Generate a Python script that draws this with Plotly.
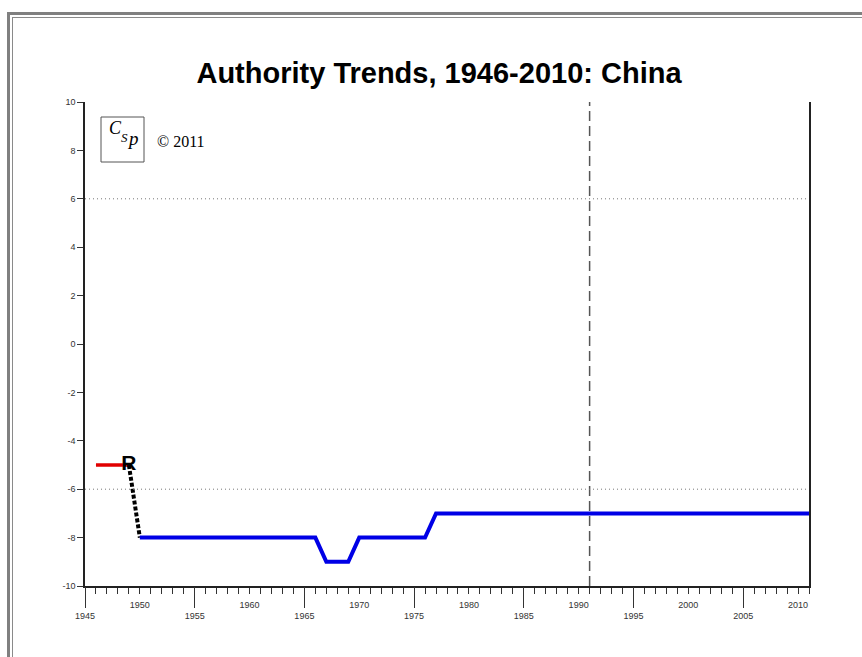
import plotly.graph_objects as go

# ---- data ----
title_text = "Authority Trends, 1946-2010: China"
pre_years = [1946, 1949]
pre_values = [-5, -5]
trans_years = [1949, 1950]
trans_values = [-5, -8]
main_years = [1950, 1966, 1967, 1969, 1970, 1976, 1977, 2011]
main_values = [-8, -8, -9, -9, -8, -8, -7, -7]
event_label = "R"
event_year = 1949
event_value = -5
ref_year = 1991
ref_levels = [6, -6]
x_range = [1945, 2011]
y_range = [-10, 10]
upper_ticks = [1950, 1960, 1970, 1980, 1990, 2000, 2010]
lower_ticks = [1945, 1955, 1965, 1975, 1985, 1995, 2005]
y_ticks = [-10, -8, -6, -4, -2, 0, 2, 4, 6, 8, 10]
copyright_text = "© 2011"

# body margin is removed in the page (see post_script)
OFF = 0
PAGE_W, PAGE_H = 862, 657
W, H = PAGE_W - OFF, PAGE_H - OFF
# plot area in page pixels: left 85, right 809, top 102, bottom 586
L, T = 85 - OFF, 102 - OFF
R, B = PAGE_W - 809, PAGE_H - 586
pw, ph = W - L - R, H - T - B


def px(x):  # page pixel -> paper
    return (x - OFF - L) / pw


def py(y):  # page pixel -> paper
    return (H - B - (y - OFF)) / ph


fig = go.Figure()
fig.add_trace(go.Scatter(x=pre_years, y=pre_values, mode="lines",
                         line=dict(color="rgb(225,0,0)", width=3.5),
                         hoverinfo="skip", showlegend=False))
fig.add_trace(go.Scatter(x=trans_years, y=trans_values, mode="lines",
                         line=dict(color="black", width=4, dash="4px,2px"),
                         hoverinfo="skip", showlegend=False))
fig.add_trace(go.Scatter(x=main_years, y=main_values, mode="lines",
                         line=dict(color="rgb(0,0,230)", width=4),
                         hoverinfo="skip", showlegend=False))
fig.add_trace(go.Scatter(x=[event_year], y=[event_value], mode="text",
                         text=[event_label],
                         textfont=dict(family="Liberation Sans, Arial", size=21, color="black"),
                         texttemplate="<b>%{text}</b>", textposition="middle center",
                         hoverinfo="skip", showlegend=False))
fig.add_trace(go.Scatter(x=[x_range[0]], y=[y_range[0]], xaxis="x2", mode="markers",
                         marker=dict(opacity=0), hoverinfo="skip", showlegend=False))

shapes = []
# reference lines
shapes.append(dict(type="line", xref="x", yref="paper", x0=ref_year, x1=ref_year, y0=0, y1=1,
                   line=dict(color="#555555", width=1.5, dash="10px,5px")))
for lv in ref_levels:
    shapes.append(dict(type="line", xref="paper", yref="y", x0=0, x1=1, y0=lv, y1=lv,
                       line=dict(color="#777777", width=1, dash="1px,3px")))
# outer frame (top and left edges only; the rest lies outside the page)
for (fx, fy, fw, fc) in [(8.5, 13.5, 3, "#808080"), (12.5, 17.5, 1, "#8a8a8a")]:
    shapes.append(dict(type="line", xref="paper", yref="paper",
                       x0=px(fx - fw / 2), x1=px(PAGE_W + 5), y0=py(fy), y1=py(fy),
                       line=dict(color=fc, width=fw)))
    shapes.append(dict(type="line", xref="paper", yref="paper",
                       x0=px(fx), x1=px(fx), y0=py(fy - fw / 2), y1=py(PAGE_H + 5),
                       line=dict(color=fc, width=fw)))
# logo box
shapes.append(dict(type="rect", xref="paper", yref="paper",
                   x0=px(101), x1=px(144), y0=py(117), y1=py(162),
                   line=dict(color="#555555", width=1)))

serif = "Liberation Serif, Times New Roman"
annotations = [
    dict(text="<i>C</i>", xref="paper", yref="paper", x=px(115), y=py(128), showarrow=False,
         font=dict(family=serif, size=18, color="black"),
         xanchor="center", yanchor="middle"),
    dict(text="<i>S</i>", xref="paper", yref="paper", x=px(124), y=py(137), showarrow=False,
         font=dict(family=serif, size=13, color="black"),
         xanchor="center", yanchor="middle"),
    dict(text="<i>p</i>", xref="paper", yref="paper", x=px(133), y=py(138), showarrow=False,
         font=dict(family=serif, size=19, color="black"),
         xanchor="center", yanchor="middle"),
    dict(text=copyright_text, xref="paper", yref="paper", x=px(155), y=py(141), showarrow=False,
         font=dict(family=serif, size=16, color="black"),
         xanchor="left", yanchor="middle"),
]

tickfont = dict(family="Liberation Sans, Arial", size=9, color="#333333")

fig.update_layout(
    width=W, height=H,
    margin=dict(l=L, r=R, t=T, b=B),
    paper_bgcolor="white", plot_bgcolor="white",
    hovermode=False,
    title=dict(text="<b>" + title_text + "</b>", x=(439 - OFF) / W, xanchor="center",
               y=1 - (73 - OFF) / H, yanchor="middle", yref="container",
               font=dict(family="Liberation Sans, Arial", size=29, color="black")),
    xaxis=dict(range=x_range, tickvals=upper_ticks, ticktext=[str(v) for v in upper_ticks],
               ticks="outside", ticklen=6, tickcolor="#333333", tickwidth=1,
               showline=True, linecolor="#222222", linewidth=1.5,
               showgrid=False, zeroline=False, tickfont=tickfont, ticklabelstandoff=3,
               minor=dict(dtick=1, tick0=1945, ticks="outside", ticklen=6,
                          tickcolor="#333333", tickwidth=1, showgrid=False),
               fixedrange=True),
    xaxis2=dict(range=x_range, overlaying="x", anchor="y", side="bottom",
                tickvals=lower_ticks, ticktext=[str(v) for v in lower_ticks],
                ticks="outside", ticklen=21, tickcolor="#333333", tickwidth=1,
                showline=False, showgrid=False, zeroline=False, tickfont=tickfont),
    yaxis=dict(range=y_range, tickvals=y_ticks, ticktext=[str(v) for v in y_ticks],
               ticks="outside", ticklen=6, tickcolor="#333333", tickwidth=1,
               showline=True, mirror=True, linecolor="#222222", linewidth=1.5,
               showgrid=False, zeroline=False, tickfont=tickfont),
    shapes=shapes,
    annotations=annotations,
)

fig.write_html("out.html",
               config={"displayModeBar": False},
               post_script="document.body.style.margin='0';"
                           "document.documentElement.style.overflow='hidden';"
                           "document.body.style.overflow='hidden';")
